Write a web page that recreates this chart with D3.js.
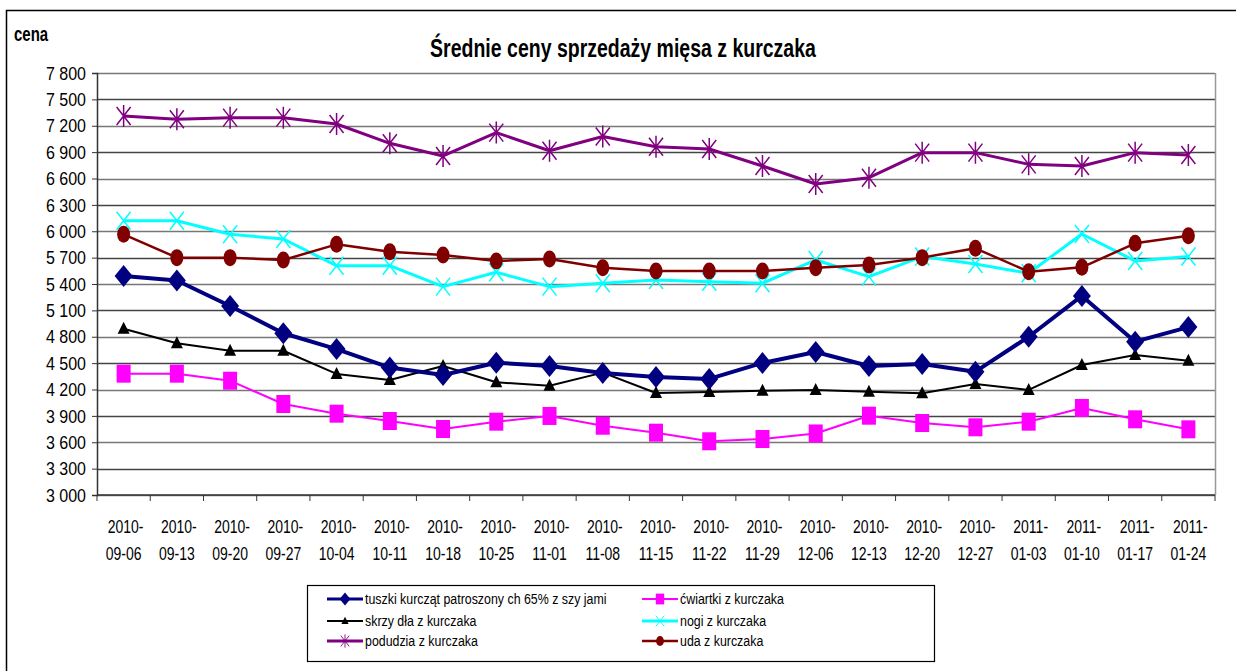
<!DOCTYPE html>
<html>
<head>
<meta charset="utf-8">
<script src="https://cdn.jsdelivr.net/npm/d3@7"></script>
<style>
body { margin: 0; background: #fff; }
text { font-family: "Liberation Sans", Arial, sans-serif; }
</style>
</head>
<body>
<div id="chart"></div>
<script>
// categories (weeks)
var weeks = ["2010-09-06", "2010-09-13", "2010-09-20", "2010-09-27", "2010-10-04", "2010-10-11", "2010-10-18",
    "2010-10-25", "2010-11-01", "2010-11-08", "2010-11-15", "2010-11-22", "2010-11-29", "2010-12-06",
    "2010-12-13", "2010-12-20", "2010-12-27", "2011-01-03", "2011-01-10", "2011-01-17", "2011-01-24"];

var yTicks = [3000, 3300, 3600, 3900, 4200, 4500, 4800, 5100, 5400, 5700, 6000, 6300, 6600, 6900, 7200, 7500, 7800];

// series values
var tuszki = [5490, 5440, 5150, 4840, 4660, 4450, 4365, 4505, 4467, 4388, 4342, 4320, 4502, 4627, 4467, 4490, 4403, 4800, 5264, 4744, 4910];
var cwiartki = [4380, 4380, 4300, 4035, 3925, 3842, 3751, 3834, 3899, 3788, 3709, 3611, 3637, 3700, 3902, 3819, 3770, 3834, 3990, 3861, 3747];
var skrzydla = [4890, 4726, 4641, 4641, 4377, 4308, 4467, 4282, 4243, 4392, 4160, 4172, 4187, 4195, 4175, 4157, 4263, 4195, 4479, 4593, 4528];
var nogi = [6120, 6120, 5965, 5912, 5608, 5608, 5370, 5533, 5370, 5408, 5446, 5426, 5408, 5673, 5484, 5712, 5628, 5522, 5969, 5662, 5712];
var podudzia = [7311, 7273, 7292, 7292, 7220, 7000, 6856, 7122, 6916, 7077, 6962, 6936, 6742, 6537, 6609, 6894, 6894, 6761, 6742, 6894, 6867];
var uda = [5965, 5700, 5700, 5673, 5851, 5767, 5730, 5662, 5684, 5586, 5548, 5548, 5548, 5585, 5616, 5700, 5806, 5540, 5590, 5863, 5950];

var series = [
    { name: "tuszki kurcząt patroszony ch 65% z szy jami", values: tuszki, color: "#000080", width: 4, marker: "diamond" },
    { name: "ćwiartki z kurczaka", values: cwiartki, color: "#ff00ff", width: 2, marker: "square" },
    { name: "skrzy dła z kurczaka", values: skrzydla, color: "#000000", width: 2, marker: "triangle" },
    { name: "nogi z kurczaka", values: nogi, color: "#00ffff", width: 3, marker: "x" },
    { name: "podudzia z kurczaka", values: podudzia, color: "#800080", width: 3, marker: "star" },
    { name: "uda z kurczaka", values: uda, color: "#800000", width: 2.5, marker: "circle" }
];

var width = 1236, height = 671;
var plot = { left: 97, right: 1215, top: 73, bottom: 495 };
var stretch = 1.32; // the original is drawn a bit taller than wide

var svg = d3.select("#chart").append("svg")
    .attr("width", width)
    .attr("height", height);

// outer border
svg.append("rect")
    .attr("x", 6.5).attr("y", 10.5)
    .attr("width", 1240).attr("height", 700)
    .attr("fill", "none").attr("stroke", "#000").attr("stroke-width", 1.5);

var x = d3.scaleBand()
    .domain(weeks)
    .range([plot.left, plot.right]);

var y = d3.scaleLinear()
    .domain([3000, 7800])
    .range([plot.bottom, plot.top]);

// gridlines
svg.append("g")
    .selectAll("line")
    .data(yTicks)
    .enter().append("line")
    .attr("x1", plot.left).attr("x2", plot.right)
    .attr("y1", function (d) { return Math.round(y(d)) + 0.5; })
    .attr("y2", function (d) { return Math.round(y(d)) + 0.5; })
    .attr("stroke", function (d, i) { return i % 2 ? "#444" : "#777"; })
    .attr("stroke-width", 1.5);

// right border of plot area
svg.append("line")
    .attr("x1", plot.right + 0.5).attr("x2", plot.right + 0.5)
    .attr("y1", plot.top).attr("y2", plot.bottom)
    .attr("stroke", "#999").attr("stroke-width", 1.5);

// y axis
var yAxis = svg.append("g")
    .attr("transform", "translate(" + plot.left + ",0)")
    .call(d3.axisLeft(y)
        .tickValues(yTicks)
        .tickSize(5)
        .tickPadding(6)
        .tickFormat(function (d) { return d3.format(",")(d).replace(",", " "); }));
yAxis.select(".domain").attr("stroke", "#333").attr("stroke-width", 1.5);
yAxis.selectAll(".tick line").attr("stroke", "#333");
yAxis.selectAll("text")
    .attr("font-size", 16)
    .attr("fill", "#000")
    .attr("font-family", "'Liberation Sans', Arial, sans-serif")
    .attr("transform", "scale(1,1.2)");

// x axis line and ticks at band edges
svg.append("line")
    .attr("x1", plot.left).attr("x2", plot.right)
    .attr("y1", plot.bottom).attr("y2", plot.bottom)
    .attr("stroke", "#333").attr("stroke-width", 1.5);

svg.append("g")
    .selectAll("line")
    .data(weeks)
    .enter().append("line")
    .attr("x1", function (d) { return x(d) + x.bandwidth(); })
    .attr("x2", function (d) { return x(d) + x.bandwidth(); })
    .attr("y1", plot.bottom).attr("y2", plot.bottom + 6)
    .attr("stroke", "#333");

svg.append("line")
    .attr("x1", plot.left).attr("x2", plot.left)
    .attr("y1", plot.bottom).attr("y2", plot.bottom + 6)
    .attr("stroke", "#333");

var xl = svg.append("g")
    .selectAll("g")
    .data(weeks)
    .enter().append("g")
    .attr("transform", function (d) {
        return "translate(" + (x(d) + x.bandwidth() / 2) + ",533) scale(1," + stretch + ")";
    })
    .append("text")
    .attr("text-anchor", "middle")
    .attr("font-size", 14);
xl.append("tspan")
    .attr("x", 2).attr("y", 0)
    .text(function (d) { return d.slice(0, 5); });
xl.append("tspan")
    .attr("x", 0).attr("y", 27 / stretch)
    .text(function (d) { return d.slice(5); });

// title and axis label
svg.append("text")
    .attr("transform", "translate(623,57) scale(1," + stretch + ")")
    .attr("text-anchor", "middle")
    .attr("font-size", 19.5)
    .attr("font-weight", "bold")
    .text("Średnie ceny sprzedaży mięsa z kurczaka");

svg.append("text")
    .attr("transform", "translate(14,41) scale(1," + stretch + ")")
    .attr("font-size", 15)
    .attr("font-weight", "bold")
    .text("cena");

// marker shapes
function markerPath(type) {
    switch (type) {
        case "diamond": return "M0,-11L9,0L0,11L-9,0Z";
        case "square": return "M-7,-9H7V9H-7Z";
        case "triangle": return "M0,-7L6,5H-6Z";
        case "x": return "M-7,-9L7,9M7,-9L-7,9";
        case "star": return "M-7,-9L7,9M7,-9L-7,9M0,-11V11";
        case "circle": return "M-6.5,0A6.5,8.5 0 1,0 6.5,0A6.5,8.5 0 1,0 -6.5,0Z";
    }
}

function drawMarker(sel, s) {
    var open = s.marker === "x" || s.marker === "star";
    sel.attr("d", markerPath(s.marker))
        .attr("fill", open ? "none" : s.color)
        .attr("stroke", s.color)
        .attr("stroke-width", open ? 1.5 : 0);
}

var line = d3.line()
    .x(function (d, i) { return x(weeks[i]) + x.bandwidth() / 2; })
    .y(function (d) { return y(d); });

// draw series in order so later ones sit on top
var drawOrder = [4, 3, 5, 2, 1, 0];
drawOrder.forEach(function (k) {
    var s = series[k];
    var g = svg.append("g");
    g.append("path")
        .datum(s.values)
        .attr("d", line)
        .attr("fill", "none")
        .attr("stroke", s.color)
        .attr("stroke-width", s.width)
        .attr("stroke-linejoin", "round");
    g.selectAll("path.m")
        .data(s.values)
        .enter().append("path")
        .attr("class", "m")
        .attr("transform", function (d, i) {
            return "translate(" + (x(weeks[i]) + x.bandwidth() / 2) + "," + y(d) + ")";
        })
        .each(function () { drawMarker(d3.select(this), s); });
});

// legend
svg.append("rect")
    .attr("x", 307.5).attr("y", 585.5)
    .attr("width", 627).attr("height", 76)
    .attr("fill", "#fff").attr("stroke", "#000").attr("stroke-width", 1.2);

var legendPos = [
    { x: 327, y: 599 }, { x: 642, y: 599 },
    { x: 327, y: 621 }, { x: 642, y: 621 },
    { x: 327, y: 641 }, { x: 642, y: 641 }
];

series.forEach(function (s, i) {
    var p = legendPos[i];
    var lg = svg.append("g").attr("transform", "translate(" + p.x + "," + p.y + ")");
    lg.append("line")
        .attr("x1", 0).attr("x2", 36)
        .attr("stroke", s.color)
        .attr("stroke-width", Math.min(s.width, 3));
    lg.append("path")
        .attr("transform", "translate(18,0) scale(0.6)")
        .each(function () { drawMarker(d3.select(this), s); });
    lg.append("text")
        .attr("transform", "translate(38,5) scale(1,1.25)")
        .attr("font-size", 12.4)
        .text(s.name);
});
</script>
</body>
</html>
